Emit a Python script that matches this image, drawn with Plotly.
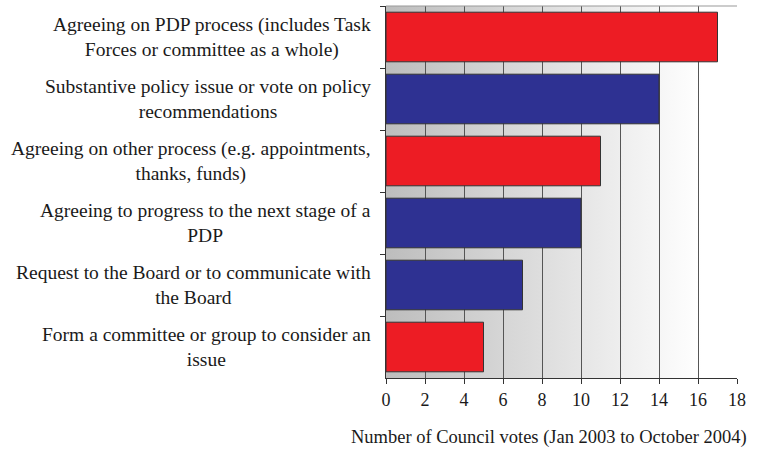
import base64
import plotly.graph_objects as go

# categories, top to bottom
categories = [
    "Agreeing on PDP process (includes Task<br>Forces or committee as a whole)",
    "Substantive policy issue or vote on policy<br>recommendations",
    "Agreeing on other process (e.g. appointments,<br>thanks, funds)",
    "Agreeing to progress to the next stage of a<br>PDP",
    "Request to the Board or to communicate with<br>the Board",
    "Form a committee or group to consider an<br>issue",
]
votes = [17, 14, 11, 10, 7, 5]
bar_colors = ["#ED1C24", "#2E3192", "#ED1C24", "#2E3192", "#2E3192", "#ED1C24"]
x_ticks = [0, 2, 4, 6, 8, 10, 12, 14, 16, 18]
x_title = "Number of Council votes (Jan 2003 to October 2004)"

FONT = "Liberation Serif, Times New Roman, serif"
TEXT = "#1a1a1a"

# grey-to-white gradient for the plot area (Excel style)
svg = (
    '<svg xmlns="http://www.w3.org/2000/svg" width="100" height="100" preserveAspectRatio="none">'
    '<defs><linearGradient id="g" x1="0" y1="0" x2="1" y2="0">'
    '<stop offset="0" stop-color="#bdbdbd"/><stop offset="0.9" stop-color="#ffffff"/>'
    '</linearGradient></defs><rect width="100" height="100" fill="url(#g)"/></svg>'
)
bg_src = "data:image/svg+xml;base64," + base64.b64encode(svg.encode()).decode()

fig = go.Figure()
fig.add_trace(go.Bar(
    x=votes,
    y=categories,
    orientation="h",
    marker=dict(color=bar_colors, line=dict(color="#333333", width=1)),
    hoverinfo="x+y",
))

# centered multi-line category labels
for cat in categories:
    fig.add_annotation(
        x=-0.037, xref="paper", y=cat, yref="y",
        text=cat, showarrow=False, xanchor="right", align="center",
        font=dict(family=FONT, size=19.5, color=TEXT),
    )

fig.add_annotation(
    x=0.464, xref="paper", y=-0.161, yref="paper",
    text=x_title, showarrow=False, xanchor="center", yanchor="middle",
    font=dict(family=FONT, size=18.5, color=TEXT),
)

# top border of the plot area
fig.add_shape(type="line", xref="paper", yref="paper", x0=0, x1=1, y0=1, y1=1,
              line=dict(color="#999999", width=1))

fig.update_layout(
    width=760, height=449,
    margin=dict(l=386, r=23, t=6, b=71),
    paper_bgcolor="white",
    plot_bgcolor="rgba(0,0,0,0)",
    showlegend=False,
    bargap=0.2,
    font=dict(family=FONT, size=18, color=TEXT),
    images=[dict(source=bg_src, xref="paper", yref="paper", x=0, y=1,
                 sizex=1, sizey=1, sizing="stretch", layer="below",
                 xanchor="left", yanchor="top")],
)

fig.update_xaxes(
    range=[0, 18], tickvals=x_ticks,
    showgrid=True, gridcolor="#555555", gridwidth=1,
    showline=True, linecolor="#333333", linewidth=1,
    ticks="outside", ticklen=5, tickcolor="#333333",
    zeroline=False,
    tickfont=dict(family=FONT, size=18, color=TEXT),
)
fig.update_yaxes(
    categoryorder="array", categoryarray=categories, autorange="reversed",
    showticklabels=False, showgrid=False,
    showline=True, linecolor="#333333", linewidth=1,
    ticks="outside", ticklen=5, tickcolor="#333333", tickson="boundaries",
)

fig.write_html("out.html", config={"displayModeBar": False},
               post_script="document.body.style.margin='0';")
